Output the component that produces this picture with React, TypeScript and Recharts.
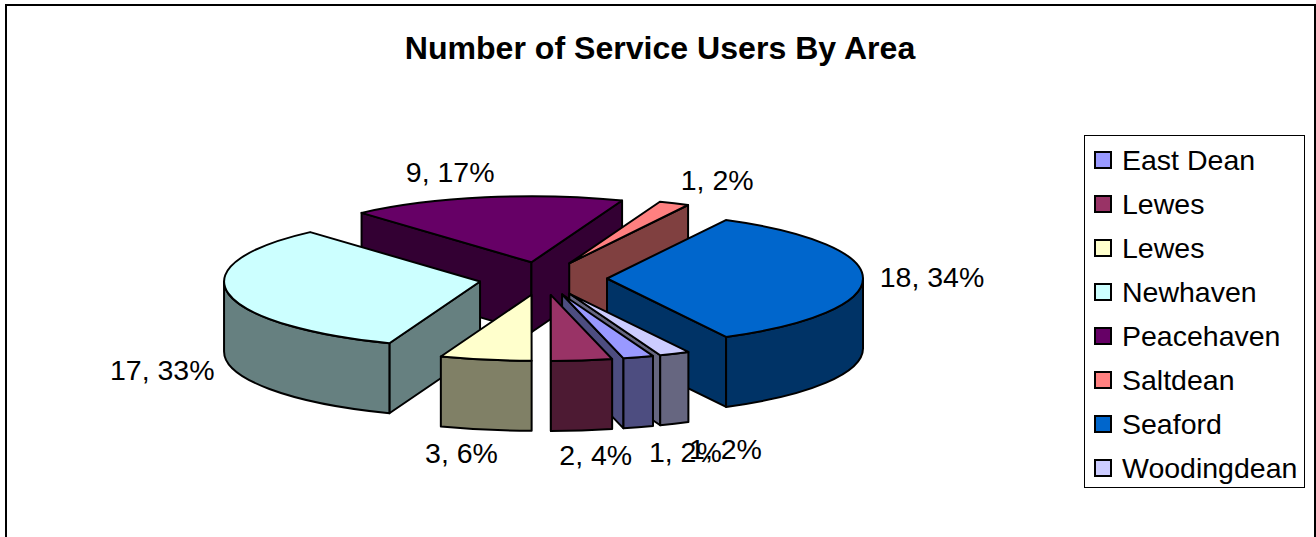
import React from "react";
import { PieChart, Pie, Legend } from "recharts";

const areas = ["East Dean", "Lewes", "Lewes ", "Newhaven", "Peacehaven", "Saltdean", "Seaford", "Woodingdean"];
const users = [1, 2, 3, 17, 9, 1, 18, 1];
const shares = [2, 4, 6, 33, 17, 2, 34, 2];
const colors = ["#9999FF", "#993366", "#FFFFCC", "#CCFFFF", "#660066", "#FF8080", "#0066CC", "#CCCCFF"];
const wallColors = ["#4D4D80", "#4D1A33", "#808066", "#668080", "#330033", "#804040", "#003366", "#666680"];

// back to front, so nearer slices paint over the ones behind them
const paintOrder = [4, 5, 6, 3, 7, 0, 2, 1];

// how far each label sits from the rim of its slice
const labelNudge = [
    [47, 95], [14, 95], [-24, 93], [-66, 77], [-35, -25], [43, -23], [69, -1], [51, 95],
];

const SQUASH = 66 / 256;
const DEPTH = 70;
const EXPLODE = 0.25;
const FONT = '"Liberation Sans", Arial, sans-serif';
const rad = (deg) => (deg * Math.PI) / 180;

const pieData = areas.map((name, i) => ({ name, users: users[i], share: shares[i], order: i }));

function Slice3D({ cx, cy, outerRadius: r, startAngle, endAngle, midAngle, order, only }) {
    if (order !== only) return null;

    const ax = cx + EXPLODE * r * Math.cos(rad(midAngle));
    const ay = cy - EXPLODE * r * SQUASH * Math.sin(rad(midAngle));
    const rim = (a) => [ax + r * Math.cos(rad(a)), ay - r * SQUASH * Math.sin(rad(a))];
    const ry = r * SQUASH;
    const [sx, sy] = rim(startAngle);
    const [ex, ey] = rim(endAngle);
    const large = startAngle - endAngle > 180 ? 1 : 0;
    const line = { stroke: "#000", strokeWidth: 2, strokeLinejoin: "round" as const };
    const walls = [];

    // flat cut faces, only those turned towards the viewer
    if (Math.cos(rad(startAngle)) < 0) {
        walls.push(`M${ax},${ay} L${sx},${sy} L${sx},${sy + DEPTH} L${ax},${ay + DEPTH} Z`);
    }
    if (Math.cos(rad(endAngle)) > 0) {
        walls.push(`M${ax},${ay} L${ex},${ey} L${ex},${ey + DEPTH} L${ax},${ay + DEPTH} Z`);
    }

    // curved outer wall, front half of the ellipse only
    for (let k = -2; k <= 1; k++) {
        const hi = Math.min(startAngle, 360 * k);
        const lo = Math.max(endAngle, 360 * k - 180);
        if (hi > lo) {
            const [hx, hy] = rim(hi);
            const [lx, ly] = rim(lo);
            walls.push(
                `M${hx},${hy} A${r},${ry} 0 0 1 ${lx},${ly} L${lx},${ly + DEPTH} A${r},${ry} 0 0 0 ${hx},${hy + DEPTH} Z`
            );
        }
    }

    return (
        <g>
            {walls.map((d, i) => (
                <path key={i} d={d} fill={wallColors[order]} {...line} />
            ))}
            <path
                d={`M${ax},${ay} L${sx},${sy} A${r},${ry} 0 ${large} 1 ${ex},${ey} Z`}
                fill={colors[order]}
                {...line}
            />
        </g>
    );
}

function SliceLabel({ cx, cy, outerRadius: r, midAngle, order, users, share }) {
    const x = cx + 1.25 * r * Math.cos(rad(midAngle)) + labelNudge[order][0];
    const y = cy - 1.25 * r * SQUASH * Math.sin(rad(midAngle)) + labelNudge[order][1];
    return (
        <text x={x} y={y} textAnchor="middle" dominantBaseline="central" fontSize={28.5} fill="#000">
            {`${users}, ${share}%`}
        </text>
    );
}

function AreaLegend() {
    return (
        <div
            style={{
                width: 221,
                height: 353,
                boxSizing: "border-box",
                border: "1px solid #000",
                background: "#fff",
                paddingTop: 2,
            }}
        >
            {areas.map((name, i) => (
                <div key={i} style={{ height: 44, display: "flex", alignItems: "center", paddingLeft: 9 }}>
                    <span
                        style={{
                            width: 14,
                            height: 14,
                            marginRight: 10,
                            border: "2px solid #000",
                            background: colors[i],
                        }}
                    />
                    <span style={{ fontSize: 28.5, color: "#000", whiteSpace: "nowrap" }}>{name.trim()}</span>
                </div>
            ))}
        </div>
    );
}

export default function App() {
    return (
        <div style={{ position: "absolute", left: 0, top: 0, width: 1316, height: 537, overflow: "hidden", fontFamily: FONT }}>
            <div
                style={{
                    position: "absolute",
                    left: 5,
                    top: 4,
                    width: 1307,
                    height: 533,
                    borderLeft: "2px solid #000",
                    borderTop: "2px solid #000",
                    borderRight: "3px solid #000",
                }}
            />
            <PieChart
                width={1316}
                height={537}
                margin={{ top: 0, right: 0, bottom: 0, left: 0 }}
                style={{ fontFamily: FONT }}
            >
                <text x={660} y={59} textAnchor="middle" fontSize={32.1} fontWeight="bold" fill="#000">
                    Number of Service Users By Area
                </text>
                {paintOrder.map((only, layer) => (
                    <Pie
                        key={only}
                        data={pieData}
                        dataKey="users"
                        nameKey="name"
                        cx={543}
                        cy={278.5}
                        outerRadius={256}
                        startAngle={-69.2}
                        endAngle={-429.2}
                        stroke="none"
                        isAnimationActive={false}
                        legendType="none"
                        labelLine={false}
                        label={layer === paintOrder.length - 1 ? (p) => <SliceLabel {...p} /> : false}
                        shape={(p) => <Slice3D {...p} only={only} />}
                    />
                ))}
                <Legend
                    content={() => <AreaLegend />}
                    wrapperStyle={{ left: 1084, top: 135, width: 221, height: 353, bottom: "auto" }}
                />
            </PieChart>
        </div>
    );
}
